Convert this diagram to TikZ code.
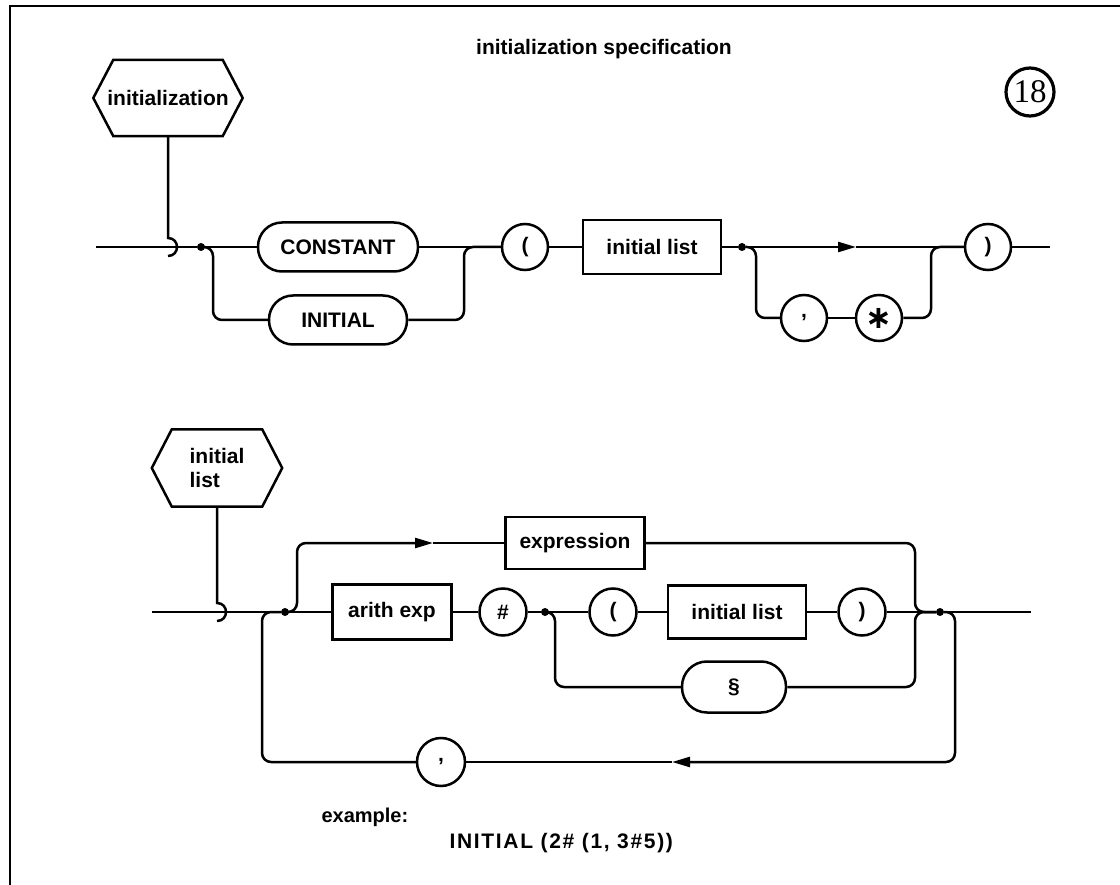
\documentclass[tikz,border=0pt]{standalone}
\usepackage{fontspec}
\setmainfont{Liberation Sans}
\newfontfamily\numfont{Liberation Serif}
\newfontfamily\symfont{DejaVu Sans}
\usetikzlibrary{arrows.meta,calc}
\tikzset{
  lbl/.style={font=\fontsize{21}{24}\selectfont\bfseries},
  line/.style={line width=2.5pt},
  conn/.style={line width=2.5pt, rounded corners=9pt},
  box/.style={lbl, draw, line width=2.5pt, rectangle, inner sep=0pt},
  pill/.style={lbl, draw, line width=2.5pt, rectangle, rounded corners=24pt, inner sep=0pt, minimum height=49},
  circ/.style={lbl, draw, circle, line width=2.5pt, inner sep=0pt, minimum size=46},
  dot/.style={circle, fill, inner sep=0pt, minimum size=8},
  hexlabel/.style={lbl, inner sep=0pt, align=left},
  hexline/.style={line width=2.5pt, line join=miter},
  tip/.style={-{Triangle[length=18pt,width=10pt]}}
}
\begin{document}
\begin{tikzpicture}[x=1pt,y=-1pt]
\useasboundingbox (0,0) rectangle (1120,885);
% frame
\draw[line width=2.5pt] (10,885) -- (10,6) -- (1120,6);
\node[lbl] (title) at (604,49) {initialization specification};
\node[draw, circle, line width=3.2pt, inner sep=0pt, minimum size=48, font=\numfont\fontsize{33}{33}\selectfont] (num) at (1030,92) {18};

% ---------- top diagram ----------
\node[hexlabel, minimum width=149, minimum height=76] (hx1) at (168,98) {initialization};
\draw[hexline] (hx1.west) -- ($(hx1.north west)+(20,0)$) -- ($(hx1.north east)+(-20,0)$) -- (hx1.east)
  -- ($(hx1.south east)+(-20,0)$) -- ($(hx1.south west)+(20,0)$) -- cycle;
\coordinate (s1) at (96,247);
\coordinate (h1) at (168,238);
\node[dot] (d1) at (201,247) {};
\node[pill, minimum width=160] (const) at (338,247) {CONSTANT};
\node[pill, minimum width=138] (ini) at (338,320) {INITIAL};
\coordinate (m1) at (464,247);
\node[circ] (lp1) at (525,247) {(};
\node[box, minimum width=138, minimum height=54] (il1) at (652,247) {initial list};
\node[dot] (d2) at (742,247) {};
\coordinate (a1) at (856,247);
\node[circ] (cm1) at (804,318) {,};
\node[circ] (st1) at (879,318) {\symfont\fontsize{32}{32}\selectfont ∗};
\coordinate (m2) at (931,247);
\node[circ] (rp1) at (988,247) {)};
\coordinate (e1) at (1050,247);

\draw[line] (hx1.south) -- (h1) .. controls ($(h1)+(12,0)$) and ($(h1)+(12,18)$) .. ($(h1)+(0,18)$);
\draw[line] (s1) -- (d1) -- (const.west);
\draw[conn] (d1) -- ++(12,0) |- (ini.west);
\draw[line] (const.east) -- (lp1.west);
\draw[conn] (ini.east) -| (m1) -- (lp1.west);
\draw[line] (lp1.east) -- (il1.west);
\draw[line] (il1.east) -- (d2);
\draw[line, tip] (d2) -- (a1);
\draw[line] (a1) -- (rp1.west);
\draw[conn] (d2) -- ++(14,0) |- (cm1.west);
\draw[line] (cm1.east) -- (st1.west);
\draw[conn] (st1.east) -| (m2) -- (rp1.west);
\draw[line] (rp1.east) -- (e1);

% ---------- bottom diagram ----------
\node[hexlabel, minimum width=130, minimum height=77] (hx2) at (217,468) {initial\\list};
\draw[hexline] (hx2.west) -- ($(hx2.north west)+(20,0)$) -- ($(hx2.north east)+(-20,0)$) -- (hx2.east)
  -- ($(hx2.south east)+(-20,0)$) -- ($(hx2.south west)+(20,0)$) -- cycle;
\coordinate (s2) at (152,612);
\coordinate (h2) at (217,603);
\coordinate (j1) at (262,612);
\node[dot] (d3) at (285,612) {};
\coordinate (a2) at (433,543);
\node[box, minimum width=139, minimum height=52] (ex) at (575,543) {expression};
\node[box, minimum width=119, minimum height=55] (ae) at (392,612) {arith exp};
\node[circ, minimum size=47] (hs) at (503,612) {\#};
\node[dot] (d5) at (545,612) {};
\node[circ, minimum size=47] (lp2) at (613,612) {(};
\node[box, minimum width=138, minimum height=53] (il2) at (737,612) {initial list};
\node[circ, minimum size=47] (rp2) at (862,612) {)};
\coordinate (m3) at (915,612);
\node[dot] (d4) at (940,612) {};
\coordinate (e2) at (1031,612);
\node[pill, minimum width=104, minimum height=51, rounded corners=25pt] (sec) at (734,687) {\S};
\coordinate (a3) at (672,762);
\node[circ, minimum size=48] (cm2) at (441,762) {,};

\draw[line] (hx2.south) -- (h2) .. controls ($(h2)+(12,0)$) and ($(h2)+(12,18)$) .. ($(h2)+(0,18)$);
\draw[line] (s2) -- (d3) -- (ae.west);
\draw[conn, tip] (d3) -- ++(12,0) |- (a2);
\draw[line] (a2) -- (ex.west);
\draw[conn] (ex.east) -| (m3) -- (d4);
\draw[line] (ae.east) -- (hs.west);
\draw[line] (hs.east) -- (d5) -- (lp2.west);
\draw[line] (lp2.east) -- (il2.west);
\draw[line] (il2.east) -- (rp2.west);
\draw[line] (rp2.east) -- (d4) -- (e2);
\draw[conn] (d5) -- ++(10,0) |- (sec.west);
\draw[conn] (sec.east) -| (m3) -- (d4);
\draw[conn, tip] (d4) -- ++(15,0) |- (a3);
\draw[line] (a3) -- (cm2.east);
\draw[conn] (cm2.west) -| (j1) -- (d3);

% example
\node[lbl, font=\fontsize{20}{23}\selectfont\bfseries, anchor=west] (exl) at (318,817) {example:};
\node[lbl, anchor=west] (exs) at (446,843) {\addfontfeature{LetterSpace=8}INITIAL (2\# (1, 3\#5))};
\end{tikzpicture}
\end{document}
